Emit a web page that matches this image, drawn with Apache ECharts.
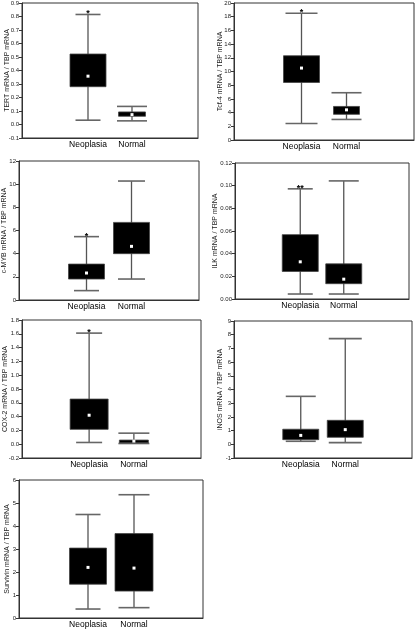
<!DOCTYPE html>
<html><head><meta charset="utf-8">
<script src="https://cdn.jsdelivr.net/npm/echarts@6/dist/echarts.min.js"></script>
<style>html,body{margin:0;padding:0;background:#fff}#c{width:416px;height:629px}</style>
</head><body><div id="c"></div>
<script>
// ---------- data ----------
const categories = ['Neoplasia', 'Normal'];
// each group: [min, Q1, median, Q3, max]
const tertNeoplasia = [0.032, 0.28, 0.358, 0.522, 0.815];
const tertNormal = [0.027, 0.061, 0.073, 0.093, 0.134];
const tcf4Neoplasia = [2.4, 8.4, 10.5, 12.3, 18.5];
const tcf4Normal = [3.0, 3.75, 4.4, 4.9, 6.9];
const cmybNeoplasia = [0.81, 1.81, 2.33, 3.1, 5.47];
const cmybNormal = [1.81, 4.0, 4.63, 6.7, 10.27];
const ilkNeoplasia = [0.0044, 0.0243, 0.0328, 0.0568, 0.0972];
const ilkNormal = [0.0044, 0.0135, 0.0175, 0.031, 0.1042];
const cox2Neoplasia = [0.025, 0.215, 0.42, 0.654, 1.61];
const cox2Normal = [0.01, 0.02, 0.045, 0.06, 0.16];
const inosNeoplasia = [0.22, 0.34, 0.65, 1.1, 3.5];
const inosNormal = [0.12, 0.51, 1.07, 1.75, 7.71];
const survivinNeoplasia = [0.39, 1.47, 2.2, 3.04, 4.5];
const survivinNormal = [0.45, 1.17, 2.17, 3.67, 5.36];

const yNames = ['TERT mRNA / TBP mRNA', 'Tcf-4 mRNA / TBP mRNA', 'c-MYB mRNA / TBP mRNA',
  'ILK mRNA / TBP mRNA', 'COX-2 mRNA / TBP mRNA', 'iNOS mRNA / TBP mRNA', 'Survivin mRNA / TBP mRNA'];
// [min, max, interval]
const yTicks = [[-0.1, 0.9, 0.1], [0, 20, 2], [0, 12, 2], [0, 0.12, 0.02], [-0.2, 1.8, 0.2], [-1, 9, 1], [0, 6, 1]];
const yDecimals = [1, 0, 0, 2, 1, 0, 0];
const significance = ['*', '*', '*', '**', '*', '', ''];

const panelData = [
  [tertNeoplasia, tertNormal], [tcf4Neoplasia, tcf4Normal], [cmybNeoplasia, cmybNormal],
  [ilkNeoplasia, ilkNormal], [cox2Neoplasia, cox2Normal], [inosNeoplasia, inosNormal],
  [survivinNeoplasia, survivinNormal]
];

// ---------- layout / style ----------
const layout = [
  {left: 22, top: 3, width: 176, height: 135, gap: 11, box: [36, 27], cap: [25, 30]},
  {left: 234, top: 3, width: 180, height: 137, gap: 10, box: [36, 26], cap: [32, 30]},
  {left: 19, top: 161, width: 180, height: 139, gap: 11, box: [36, 36], cap: [25, 27]},
  {left: 235, top: 163, width: 174, height: 136, gap: 16, box: [36, 36], cap: [25, 30]},
  {left: 22, top: 320, width: 179, height: 138, gap: 13, box: [38, 29], cap: [26, 31]},
  {left: 234, top: 321, width: 178, height: 137, gap: 10, box: [36, 36], cap: [30, 33]},
  {left: 19, top: 480, width: 184, height: 138, gap: 8, box: [37, 38], cap: [25, 31]}
];
const FONT = 'Liberation Sans, Arial, sans-serif';

function makeRender(p) {
  return function (params, api) {
    const idx = api.value(0);
    const g = idx - 1;
    const ys = [1, 2, 3, 4, 5].map(d => api.coord([idx, api.value(d)])[1]);
    const cx = api.coord([idx, 0])[0];
    const bw = layout[p].box[g], cw = layout[p].cap[g];
    const yMin = ys[0], yQ1 = ys[1], yMed = ys[2], yQ3 = ys[3], yMax = ys[4];
    const children = [
      {type: 'line', shape: {x1: cx, y1: yMax, x2: cx, y2: yMin}, style: {stroke: '#555', lineWidth: 1.3}},
      {type: 'line', shape: {x1: cx - cw / 2, y1: yMax, x2: cx + cw / 2, y2: yMax}, style: {stroke: '#666', lineWidth: 1.6}},
      {type: 'line', shape: {x1: cx - cw / 2, y1: yMin, x2: cx + cw / 2, y2: yMin}, style: {stroke: '#666', lineWidth: 1.6}},
      {type: 'rect', shape: {x: cx - bw / 2, y: yQ3, width: bw, height: Math.max(yQ1 - yQ3, 1)},
        style: {fill: '#000', stroke: '#444', lineWidth: 0.8}},
      {type: 'rect', shape: {x: cx - 1.5, y: yMed - 1.5, width: 3, height: 3}, style: {fill: '#fff'}}
    ];
    if (g === 0 && significance[p]) {
      children.push({type: 'text', style: {text: significance[p], x: cx, y: yMax - 0.5,
        align: 'center', verticalAlign: 'middle', font: 'bold 9px ' + FONT, fill: '#000'}});
    }
    return {type: 'group', children: children};
  };
}

const grids = [], xAxes = [], yAxes = [], series = [];
layout.forEach((L, p) => {
  grids.push({left: L.left, top: L.top, width: L.width, height: L.height, show: true,
    borderColor: '#333', borderWidth: 1, containLabel: false, outerBoundsMode: 'none'});
  xAxes.push({type: 'category', gridIndex: p, data: [''].concat(categories, ['']), boundaryGap: true,
    position: 'bottom',
    axisLine: {show: true, onZero: false, lineStyle: {color: '#333', width: 1}}, axisTick: {show: false},
    axisLabel: {interval: 0, margin: 2, fontSize: 8.5, color: '#000', fontFamily: FONT},
    splitLine: {show: false}});
  const t = yTicks[p];
  yAxes.push({type: 'value', gridIndex: p, min: t[0], max: t[1], interval: t[2],
    name: yNames[p], nameLocation: 'middle', nameGap: L.gap, nameMoveOverlap: false,
    nameTextStyle: {fontSize: 7, color: '#222', fontFamily: FONT},
    axisLine: {show: true, onZero: false, lineStyle: {color: '#333', width: 1}},
    axisTick: {show: true, length: 3, inside: false, lineStyle: {color: '#333'}},
    axisLabel: {fontSize: 6, margin: 3, color: '#222', fontFamily: FONT,
      formatter: v => Number(v).toFixed(yDecimals[p])},
    splitLine: {show: false}});
  series.push({type: 'custom', xAxisIndex: p, yAxisIndex: p, clip: false,
    renderItem: makeRender(p),
    encode: {x: 0, y: [1, 2, 3, 4, 5]},
    data: panelData[p].map((d, i) => [i + 1].concat(d)),
    silent: true});
});

const chart = echarts.init(document.getElementById('c'), null, {renderer: 'canvas'});
chart.setOption({animation: false, backgroundColor: '#fff', textStyle: {fontFamily: FONT},
  grid: grids, xAxis: xAxes, yAxis: yAxes, series: series});
</script></body></html>
